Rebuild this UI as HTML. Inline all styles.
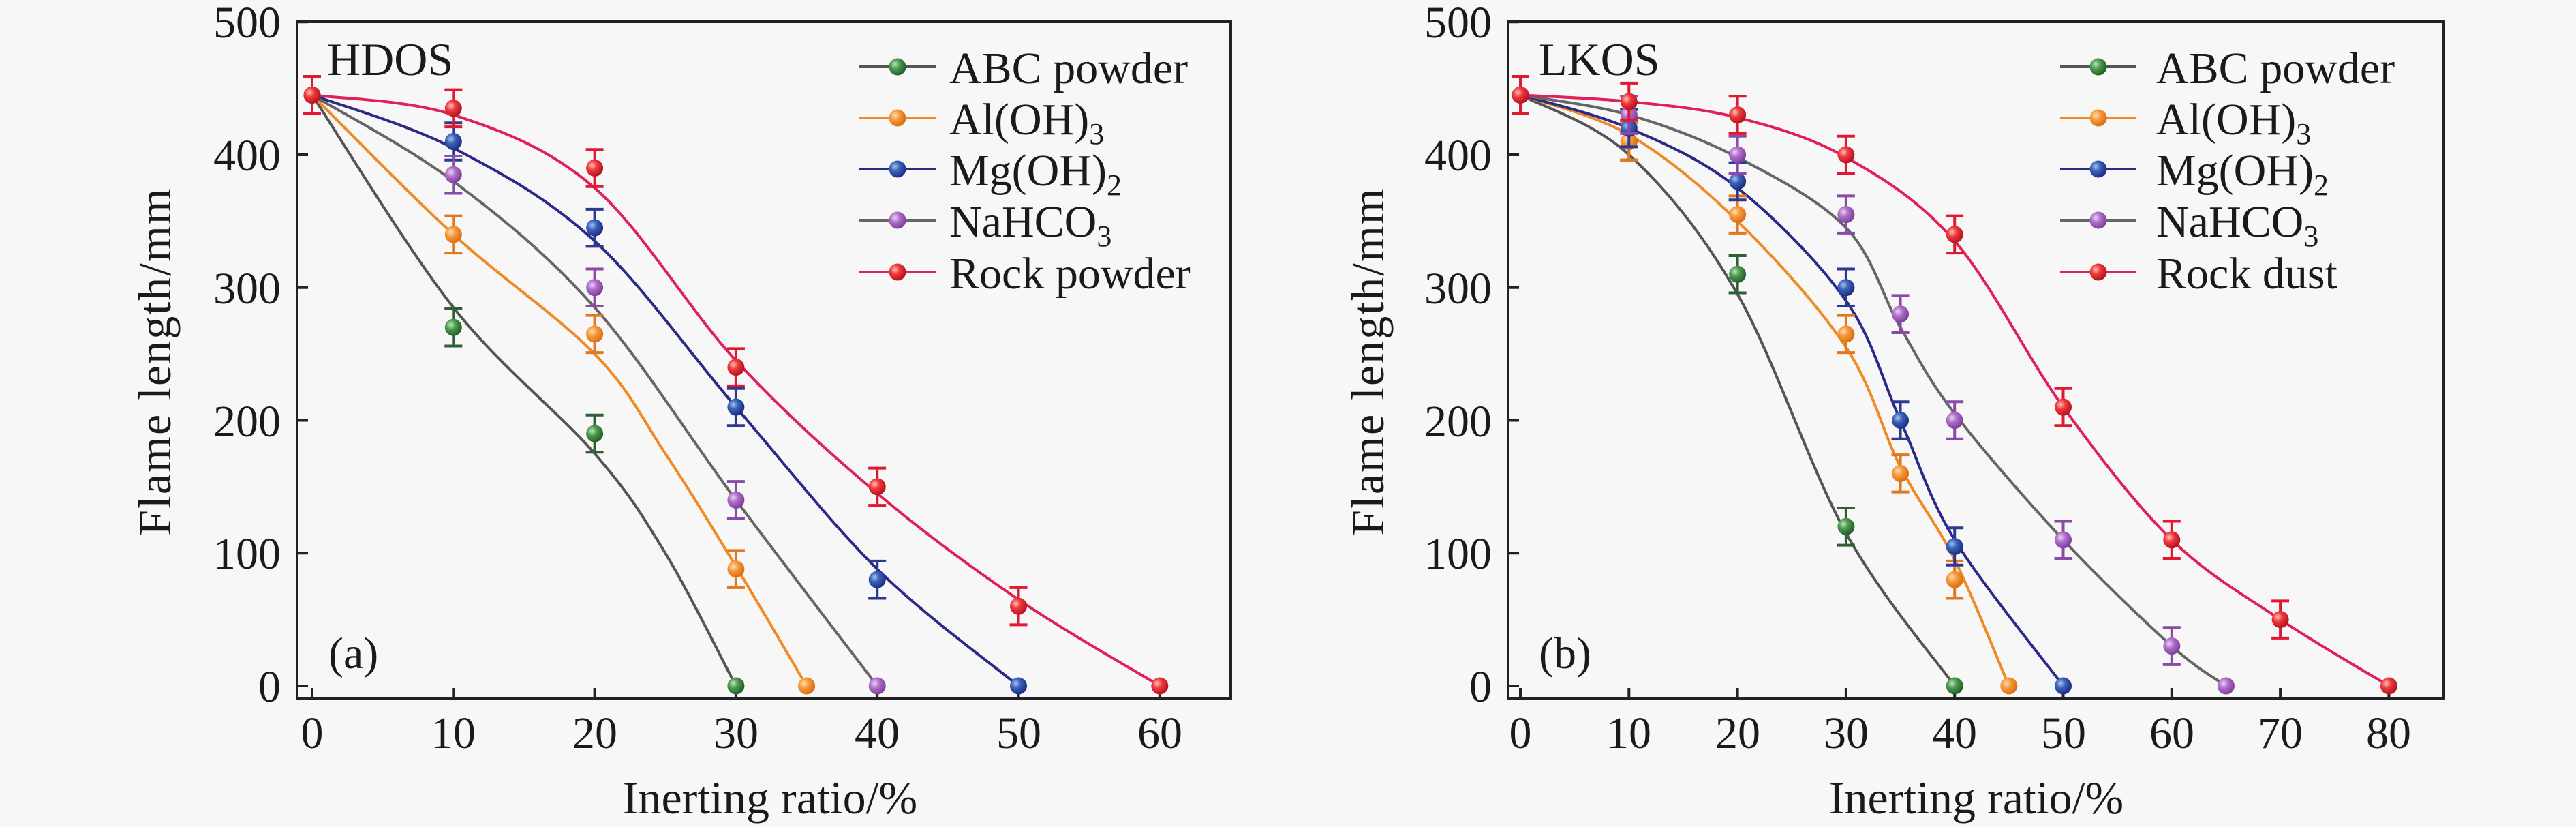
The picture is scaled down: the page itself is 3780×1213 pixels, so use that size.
<!DOCTYPE html>
<html><head><meta charset="utf-8"><style>
html,body{margin:0;padding:0;background:#f7f7f7;}
svg{display:block;}
text{font-family:"Liberation Serif",serif;fill:#1a1a1a;}
</style></head><body>
<svg id="s" width="3780" height="1213" viewBox="0 0 3780 1213" xmlns="http://www.w3.org/2000/svg">
<defs>
<radialGradient id="gG" cx="0.35" cy="0.35" r="0.7"><stop offset="0" stop-color="#bfe5bf"/><stop offset="0.4" stop-color="#4e9a4e"/><stop offset="1" stop-color="#1f5a25"/></radialGradient>
<radialGradient id="gO" cx="0.35" cy="0.35" r="0.7"><stop offset="0" stop-color="#ffe0b8"/><stop offset="0.4" stop-color="#f59a3a"/><stop offset="1" stop-color="#d86a10"/></radialGradient>
<radialGradient id="gB" cx="0.35" cy="0.35" r="0.7"><stop offset="0" stop-color="#a8c0f0"/><stop offset="0.4" stop-color="#3a62b8"/><stop offset="1" stop-color="#1a2a80"/></radialGradient>
<radialGradient id="gP" cx="0.35" cy="0.35" r="0.7"><stop offset="0" stop-color="#ecd0f5"/><stop offset="0.4" stop-color="#b070c8"/><stop offset="1" stop-color="#7a3a98"/></radialGradient>
<radialGradient id="gR" cx="0.35" cy="0.35" r="0.7"><stop offset="0" stop-color="#ffc0c0"/><stop offset="0.4" stop-color="#ee3a3a"/><stop offset="1" stop-color="#b01020"/></radialGradient>
</defs>
<g id="plot"></g>
<!-- Left panel text -->
<g font-size="66">
<text x="412" y="1029" text-anchor="end">0</text>
<text x="412" y="834" text-anchor="end">100</text>
<text x="412" y="640" text-anchor="end">200</text>
<text x="412" y="445" text-anchor="end">300</text>
<text x="412" y="250" text-anchor="end">400</text>
<text x="412" y="55" text-anchor="end">500</text>
<text x="458" y="1097" text-anchor="middle">0</text>
<text x="665" y="1097" text-anchor="middle">10</text>
<text x="873" y="1097" text-anchor="middle">20</text>
<text x="1080" y="1097" text-anchor="middle">30</text>
<text x="1287" y="1097" text-anchor="middle">40</text>
<text x="1495" y="1097" text-anchor="middle">50</text>
<text x="1702" y="1097" text-anchor="middle">60</text>
<text x="1130" y="1193" text-anchor="middle" font-size="68">Inerting ratio/%</text>
<text transform="translate(250,530) rotate(-90)" text-anchor="middle" font-size="68" letter-spacing="2">Flame length/mm</text>
<text x="480" y="110" font-size="68">HDOS</text>
<text x="482" y="980">(a)</text>
<text x="1393" y="122">ABC powder</text>
<text x="1393" y="197">Al(OH)<tspan font-size="44" dy="14">3</tspan></text>
<text x="1393" y="272">Mg(OH)<tspan font-size="44" dy="14">2</tspan></text>
<text x="1393" y="347">NaHCO<tspan font-size="44" dy="14">3</tspan></text>
<text x="1393" y="423">Rock powder</text>
</g>
<!-- Right panel text -->
<g font-size="66">
<text x="2189" y="1029" text-anchor="end">0</text>
<text x="2189" y="834" text-anchor="end">100</text>
<text x="2189" y="640" text-anchor="end">200</text>
<text x="2189" y="445" text-anchor="end">300</text>
<text x="2189" y="250" text-anchor="end">400</text>
<text x="2189" y="55" text-anchor="end">500</text>
<text x="2231" y="1097" text-anchor="middle">0</text>
<text x="2390" y="1097" text-anchor="middle">10</text>
<text x="2550" y="1097" text-anchor="middle">20</text>
<text x="2709" y="1097" text-anchor="middle">30</text>
<text x="2868" y="1097" text-anchor="middle">40</text>
<text x="3028" y="1097" text-anchor="middle">50</text>
<text x="3187" y="1097" text-anchor="middle">60</text>
<text x="3346" y="1097" text-anchor="middle">70</text>
<text x="3505" y="1097" text-anchor="middle">80</text>
<text x="2900" y="1193" text-anchor="middle" font-size="68">Inerting ratio/%</text>
<text transform="translate(2030,530) rotate(-90)" text-anchor="middle" font-size="68" letter-spacing="2">Flame length/mm</text>
<text x="2258" y="110" font-size="68">LKOS</text>
<text x="2258" y="980">(b)</text>
<text x="3164" y="122">ABC powder</text>
<text x="3164" y="197">Al(OH)<tspan font-size="44" dy="14">3</tspan></text>
<text x="3164" y="272">Mg(OH)<tspan font-size="44" dy="14">2</tspan></text>
<text x="3164" y="347">NaHCO<tspan font-size="44" dy="14">3</tspan></text>
<text x="3164" y="423">Rock dust</text>
</g>
</svg>
<script>
(function(){
var NS="http://www.w3.org/2000/svg",g=document.getElementById("plot");
function el(t,a){var e=document.createElementNS(NS,t);for(var k in a)e.setAttribute(k,a[k]);g.appendChild(e);return e;}
var Y0=1006,YS=1.9475;
var ser=[["#555","url(#gG)","#2f5f35"],["#f08a25","url(#gO)","#e07820"],["#2a2a88","url(#gB)","#2a3a90"],["#666","url(#gP)","#8a4aa8"],["#e0205a","url(#gR)","#e01830"]];
function path(px){var d="M"+px[0][0]+","+px[0][1];for(var i=0;i<px.length-1;i++){var p0=px[i-1]||px[i],p1=px[i],p2=px[i+1],p3=px[i+2]||p2;
d+=" C"+(p1[0]+(p2[0]-p0[0])/6)+","+(p1[1]+(p2[1]-p0[1])/6)+" "+(p2[0]-(p3[0]-p1[0])/6)+","+(p2[1]-(p3[1]-p1[1])/6)+" "+p2[0]+","+p2[1];}return d;}
function panel(x0,xs,L,R,curves,pts,ticks,legX){
  el("rect",{x:L,y:32,width:R-L,height:993,fill:"none",stroke:"#222","stroke-width":4});
  ticks.forEach(function(t){var x=x0+t*xs;el("line",{x1:x,y1:1025,x2:x,y2:1009,stroke:"#222","stroke-width":4});});
  for(var v=0;v<=500;v+=100){var y=Y0-v*YS;el("line",{x1:L,y1:y,x2:L+16,y2:y,stroke:"#222","stroke-width":4});}
  curves.forEach(function(c,i){el("path",{d:path(c.map(function(p){return[x0+p[0]*xs,Y0-p[1]*YS];})),fill:"none",stroke:ser[i][0],"stroke-width":4});});
  pts.forEach(function(c,i){c.forEach(function(p){var x=x0+p[0]*xs,y=Y0-p[1]*YS;
    if(p[1]>0){var e=14*YS;el("path",{d:"M"+(x-13)+","+(y-e)+"H"+(x+13)+"M"+x+","+(y-e)+"V"+(y+e)+"M"+(x-13)+","+(y+e)+"H"+(x+13),stroke:ser[i][2],"stroke-width":4,fill:"none"});}
    el("circle",{cx:x,cy:y,r:12.5,fill:ser[i][1]});});});
  [98,173,248,323,399].forEach(function(y,i){el("line",{x1:legX,y1:y,x2:legX+112,y2:y,stroke:ser[i][0],"stroke-width":4});el("circle",{cx:legX+56,cy:y,r:12.5,fill:ser[i][1]});});
}
panel(458,20.73,436,1806,
[[[0,445],[10,285],[20,175],[25,100],[30,0]],
 [[0,445],[10,340],[20,250],[25,175],[30,90],[35,0]],
 [[0,445],[10,405],[20,335],[30,210],[40,88],[50,0]],
 [[0,445],[10,380],[20,285],[30,140],[40,0]],
 [[0,445],[10,430],[20,375],[30,245],[40,145],[50,65],[60,0]]],
[[[0,445],[10,270],[20,190],[30,0]],
 [[0,445],[10,340],[20,265],[30,88],[35,0]],
 [[0,445],[10,410],[20,345],[30,210],[40,80],[50,0]],
 [[0,445],[10,385],[20,300],[30,140],[40,0]],
 [[0,445],[10,435],[20,390],[30,240],[40,150],[50,60],[60,0]]],
[0,10,20,30,40,50,60],1261);
panel(2231,15.93,2213,3586,
[[[0,445],[10,400],[20,295],[30,115],[40,0]],
 [[0,445],[10,415],[20,350],[30,255],[35,165],[40,95],[45,0]],
 [[0,445],[10,420],[20,375],[30,290],[35,200],[40,110],[50,0]],
 [[0,445],[10,430],[20,398],[30,345],[35,270],[40,205],[50,110],[60,30],[65,0]],
 [[0,445],[10,440],[20,428],[30,398],[40,335],[50,210],[60,110],[70,50],[80,0]]],
[[[0,445],[10,410],[20,310],[30,120],[40,0]],
 [[0,445],[10,410],[20,355],[30,265],[35,160],[40,80],[45,0]],
 [[0,445],[10,420],[20,380],[30,300],[35,200],[40,105],[50,0]],
 [[0,445],[10,430],[20,400],[30,355],[35,280],[40,200],[50,110],[60,30],[65,0]],
 [[0,445],[10,440],[20,430],[30,400],[40,340],[50,210],[60,110],[70,50],[80,0]]],
[0,10,20,30,40,50,60,70,80],3023);
})();
</script>
</body></html>
